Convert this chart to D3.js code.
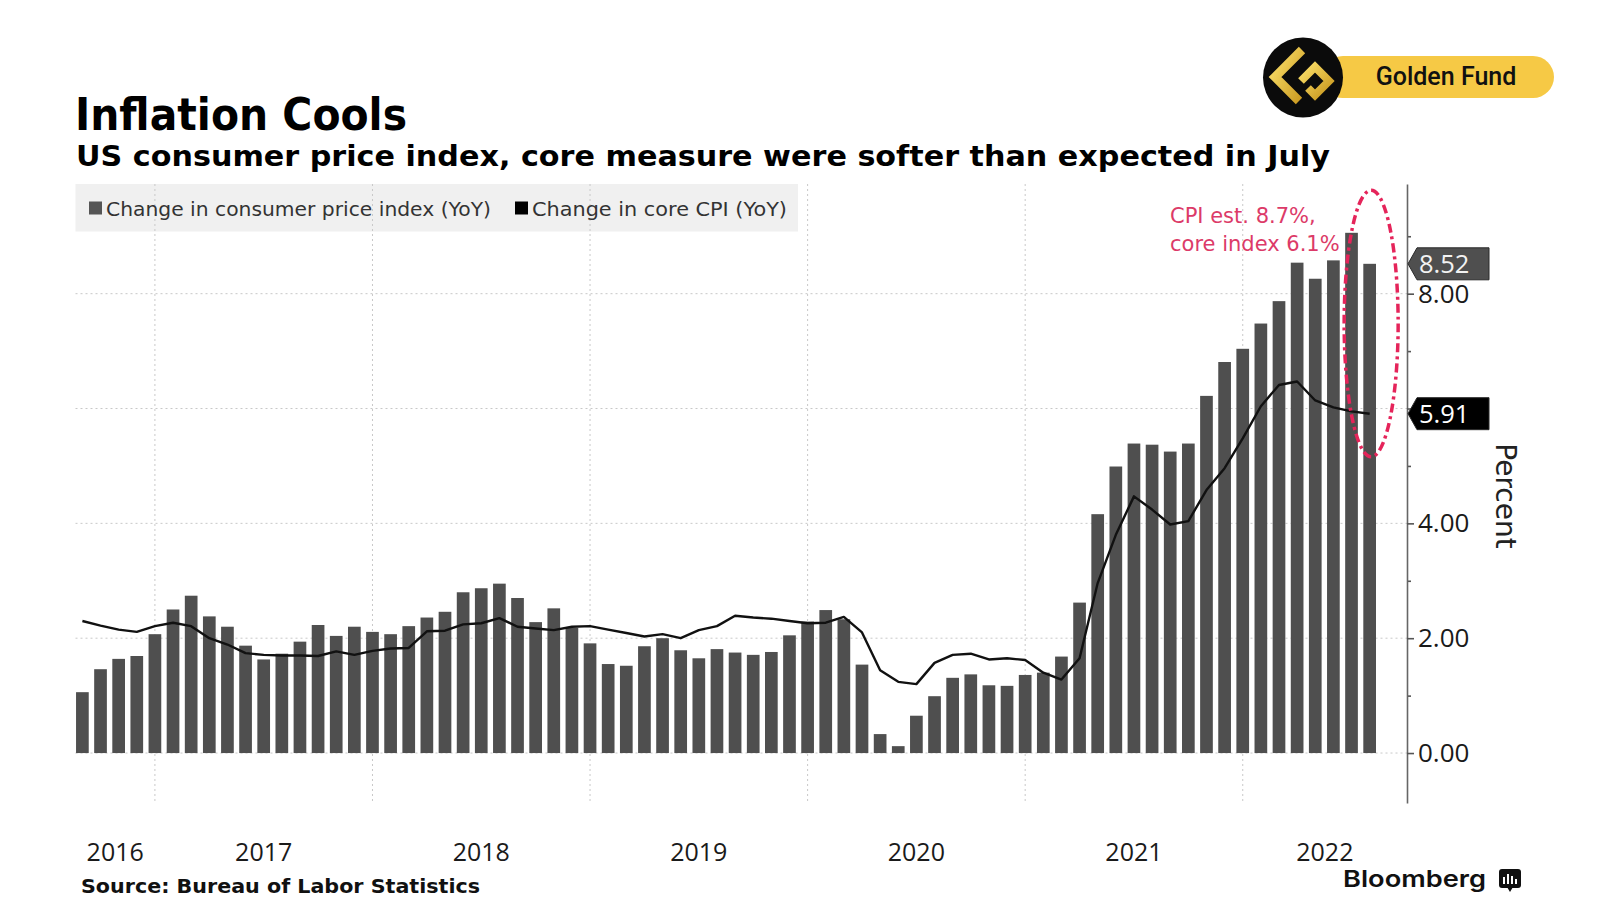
<!DOCTYPE html>
<html><head><meta charset="utf-8">
<script src="https://cdn.jsdelivr.net/npm/d3@7"></script>
<style>html,body{margin:0;padding:0;background:#fff;} svg{display:block;}</style>
</head><body>
<script>
// ---------- DATA ----------
const startMonth = "2016-08";   // first monthly observation (Aug 2016 .. Jul 2022)
const cpi = [1.06,1.46,1.64,1.69,2.07,
  2.50,2.74,2.38,2.20,1.87,1.63,1.73,1.94,2.23,2.04,2.20,2.11,
  2.07,2.21,2.36,2.46,2.80,2.87,2.95,2.70,2.28,2.52,2.18,1.91,
  1.55,1.52,1.86,2.00,1.79,1.65,1.81,1.75,1.71,1.76,2.05,2.29,
  2.49,2.33,1.54,0.33,0.12,0.65,0.99,1.31,1.37,1.18,1.17,1.36,
  1.40,1.68,2.62,4.16,4.99,5.39,5.37,5.25,5.39,6.22,6.81,7.04,
  7.48,7.87,8.54,8.26,8.58,9.06,8.52];
const core = [2.30,2.22,2.15,2.11,2.21,
  2.27,2.21,2.00,1.89,1.74,1.71,1.70,1.70,1.69,1.77,1.71,1.78,
  1.82,1.83,2.12,2.13,2.24,2.26,2.35,2.20,2.17,2.14,2.20,2.21,
  2.15,2.09,2.03,2.07,2.00,2.14,2.21,2.39,2.36,2.34,2.30,2.26,
  2.27,2.37,2.10,1.44,1.24,1.20,1.57,1.71,1.73,1.63,1.65,1.62,
  1.40,1.28,1.65,2.96,3.80,4.47,4.24,3.98,4.04,4.58,4.96,5.48,
  6.04,6.41,6.47,6.14,6.02,5.95,5.91];
const yearLabels = ["2016","2017","2018","2019","2020","2021","2022"];
const yTicks = [0,2,4,6,8];
const yMinorTicks = [1,3,5,7,9];
const legendLabels = ["Change in consumer price index (YoY)","Change in core CPI (YoY)"];
const annotationLines = ["CPI est. 8.7%,","core index 6.1%"];
const titleText = "Inflation Cools";
const subtitleText = "US consumer price index, core measure were softer than expected in July";
const sourceText = "Source:  Bureau of Labor Statistics";
const axisTitle = "Percent";

// ---------- SETUP ----------
const svg = d3.select("body").append("svg").attr("width",1600).attr("height",900);
const defs = svg.append("defs");
const gold = defs.append("linearGradient").attr("id","gold").attr("x1","0").attr("y1","0").attr("x2","1").attr("y2","1");
gold.append("stop").attr("offset","0%").attr("stop-color","#fbe06a");
gold.append("stop").attr("offset","100%").attr("stop-color","#c9981f");

const L = 75.5, R = 1407, T = 184, B = 803;
const x = d3.scaleLinear().domain([2016.635, 2022.755]).range([L, R]);
const y = d3.scaleLinear().domain([-0.87, 9.91]).range([B, T]);

const start = d3.timeParse("%Y-%m")(startMonth);
const months = cpi.map((d,i) => d3.timeMonth.offset(start, i));
const pos = d => d.getFullYear() + (d.getMonth() + 1) / 12;   // month-end position
const step = x(2017 + 1/12) - x(2017);
const barW = step * 0.7;
const lastCpi = cpi[cpi.length-1], lastCore = core[core.length-1];

// ---------- TITLES ----------
svg.append("text").attr("x",75).attr("y",130)
  .attr("font-family","DejaVu Sans").attr("font-weight","bold").attr("font-size",44)
  .attr("textLength",332).attr("lengthAdjust","spacingAndGlyphs").attr("fill","#000").text(titleText);
svg.append("text").attr("x",76).attr("y",166)
  .attr("font-family","DejaVu Sans").attr("font-weight","bold").attr("font-size",28)
  .attr("textLength",1254).attr("lengthAdjust","spacingAndGlyphs").attr("fill","#000").text(subtitleText);

// ---------- LEGEND BOX ----------
svg.append("rect").attr("x",L).attr("y",184).attr("width",722.5).attr("height",47.5).attr("fill","#f0f0f0");

// ---------- GRID ----------
const grid = svg.append("g");
grid.selectAll("line.v").data(d3.range(2017, 2023)).join("line")
  .attr("x1",d=>x(d)).attr("x2",d=>x(d)).attr("y1",T).attr("y2",B)
  .attr("stroke","#c8c8c8").attr("stroke-width",1).attr("stroke-dasharray","2,3");
grid.selectAll("line.h").data(yTicks).join("line")
  .attr("x1",L).attr("x2",R).attr("y1",d=>y(d)).attr("y2",d=>y(d))
  .attr("stroke","#c8c8c8").attr("stroke-width",1).attr("stroke-dasharray","2,3");

// legend content
const lg = svg.append("g").attr("font-family","DejaVu Sans").attr("font-size",20).attr("fill","#333");
lg.append("rect").attr("x",89).attr("y",201.5).attr("width",13).attr("height",13).attr("fill","#555");
lg.append("text").attr("x",106).attr("y",216).attr("textLength",385).attr("lengthAdjust","spacingAndGlyphs").text(legendLabels[0]);
lg.append("rect").attr("x",515).attr("y",201.5).attr("width",13).attr("height",13).attr("fill","#000");
lg.append("text").attr("x",532).attr("y",216).attr("textLength",255).attr("lengthAdjust","spacingAndGlyphs").text(legendLabels[1]);

// ---------- BARS ----------
svg.append("g").selectAll("rect").data(cpi).join("rect")
  .attr("x",(d,i)=>x(pos(months[i])) - barW/2)
  .attr("width",barW)
  .attr("y",d=>y(Math.max(0,d)))
  .attr("height",d=>Math.abs(y(d)-y(0)))
  .attr("fill","#4f4f4f");

// ---------- CORE LINE ----------
svg.append("path").datum(core)
  .attr("d", d3.line().x((d,i)=>x(pos(months[i]))).y(d=>y(d)))
  .attr("fill","none").attr("stroke","#111").attr("stroke-width",2.4).attr("stroke-linejoin","round");

// ---------- ANNOTATION ----------
const an = svg.append("g").attr("font-family","DejaVu Sans").attr("font-size",21).attr("fill","#dc3a68");
an.append("text").attr("x",1170).attr("y",223).text(annotationLines[0]);
an.append("text").attr("x",1170).attr("y",251).text(annotationLines[1]);
const lastX = x(pos(months[months.length-1]));
svg.append("ellipse")
  .attr("cx", lastX + 1.5).attr("cy", (y(9.80)+y(5.16))/2)
  .attr("rx", 27).attr("ry", (y(5.16)-y(9.80))/2)
  .attr("fill","none").attr("stroke","#e5245a").attr("stroke-width",3.5)
  .attr("stroke-dasharray","9,4,3,4");

// ---------- Y AXIS (right) ----------
const gMinor = svg.append("g").attr("transform",`translate(${R},0)`)
  .call(d3.axisRight(y).tickValues(yMinorTicks).tickFormat("").tickSize(4).tickSizeOuter(0));
gMinor.select(".domain").remove();
gMinor.selectAll(".tick line").attr("stroke","#555").attr("stroke-width",1.6);

const gA = svg.append("g").attr("transform",`translate(${R},0)`)
  .call(d3.axisRight(y).tickValues(yTicks).tickFormat(d3.format(".2f")).tickSize(7).tickPadding(4).tickSizeOuter(0));
gA.select(".domain").attr("stroke","#666").attr("stroke-width",1.6);
gA.selectAll(".tick line").attr("stroke","#555").attr("stroke-width",1.6);
gA.selectAll(".tick text").attr("font-family","Open Sans").attr("font-size",26).attr("fill","#1a1a1a");
// labels hidden behind a value tag are not drawn (as in the reference)
gA.selectAll(".tick text").filter(d => Math.abs(y(d) - y(lastCore)) < 20 || Math.abs(y(d) - y(lastCpi)) < 20).remove();

svg.append("text").attr("transform",`translate(1496,${(y(4)+y(6))/2 + 30}) rotate(90)`)
  .attr("text-anchor","middle").attr("font-family","DejaVu Sans").attr("font-size",28).attr("fill","#222")
  .text(axisTitle);

// ---------- VALUE TAGS ----------
function tag(v, fill, txtFill){
  const yy = y(v), h = 16;
  svg.append("path")
    .attr("d",`M${R+1},${yy} L${R+10},${yy-h} L${R+82},${yy-h} L${R+82},${yy+h} L${R+10},${yy+h} Z`)
    .attr("fill",fill).attr("stroke","#2a2a2a").attr("stroke-width",1);
  svg.append("text").attr("x",R+12).attr("y",yy).attr("dy","0.36em")
    .attr("font-family","Open Sans").attr("font-size",25.5).attr("fill",txtFill)
    .text(d3.format(".2f")(v));
}
tag(lastCpi, "#4f4f4f", "#f2f2f2");
tag(lastCore, "#000", "#ffffff");

// ---------- X LABELS ----------
svg.append("g").selectAll("text").data(yearLabels).join("text")
  .attr("x", d => { const a = Math.max(x(+d), L), b = Math.min(x(+d+1), R); return (a+b)/2; })
  .attr("y", 861).attr("text-anchor","middle")
  .attr("font-family","Open Sans").attr("font-size",25).attr("fill","#1a1a1a")
  .text(d=>d);

// ---------- SOURCE / BRAND ----------
svg.append("text").attr("x",81).attr("y",893)
  .attr("font-family","DejaVu Sans").attr("font-weight","bold").attr("font-size",20)
  .attr("textLength",399).attr("lengthAdjust","spacingAndGlyphs").attr("fill","#111").text(sourceText);
svg.append("text").attr("x",1343).attr("y",887)
  .attr("font-family","Inter, Roboto, sans-serif").attr("font-weight",600).attr("font-size",23)
  .attr("textLength",143).attr("lengthAdjust","spacingAndGlyphs").attr("fill","#111").text("Bloomberg");
const bi = svg.append("g").attr("transform","translate(1499,869)");
bi.append("rect").attr("width",22).attr("height",19).attr("rx",3).attr("fill","#111");
bi.append("path").attr("d","M8,18 L14,18 L11,23 Z").attr("fill","#111");
[[4,7],[8,10],[12,8],[16,5]].forEach(([bx,bh])=>{
  bi.append("rect").attr("x",bx).attr("y",15-bh).attr("width",2).attr("height",bh).attr("fill","#fff");
});

// ---------- GOLDEN FUND LOGO ----------
const gf = svg.append("g");
gf.append("rect").attr("x",1322).attr("y",56).attr("width",232).attr("height",42).attr("rx",21).attr("fill","#f6c945");
gf.append("circle").attr("cx",1303).attr("cy",77.5).attr("r",40).attr("fill","#0b0b0b");
gf.append("polyline").attr("points","1302,50 1275,77 1299,101")
  .attr("fill","none").attr("stroke","url(#gold)").attr("stroke-width",9).attr("stroke-linejoin","miter");
gf.append("polyline").attr("points","1301,81 1315,67 1329,81 1315,95 1308,88")
  .attr("fill","none").attr("stroke","url(#gold)").attr("stroke-width",8).attr("stroke-linejoin","miter");
gf.append("text").attr("x",1446).attr("y",85).attr("text-anchor","middle")
  .attr("font-family","Roboto").attr("font-weight",500).attr("font-size",25).attr("fill","#111")
  .text("Golden Fund");
</script>
</body></html>
